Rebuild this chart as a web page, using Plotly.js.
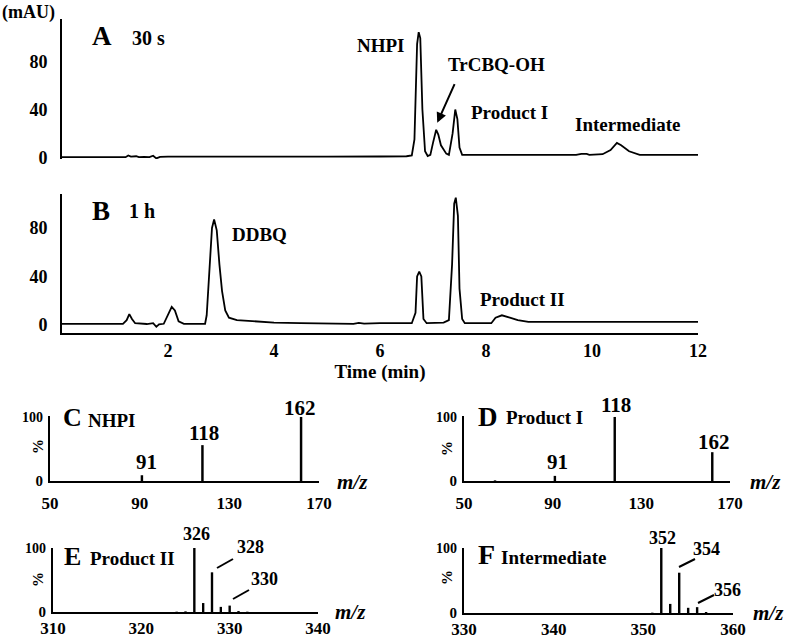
<!DOCTYPE html>
<html>
<head>
<meta charset="utf-8">
<script src="https://cdn.plot.ly/plotly-3.0.1.min.js"></script>
<style>
  body { margin: 0; background: #fff; }
  #plot { width: 787px; height: 641px; }
</style>
</head>
<body>
<div id="plot"></div>
<script>
// chromatogram A (30 s)
const timeA = [0, 1.2, 1.25, 1.3, 1.4, 1.45, 1.55, 1.65, 1.72, 1.78, 1.85, 2.0, 5.0, 5.6, 5.9, 6.0, 6.5,
  6.6, 6.65, 6.7, 6.73, 6.76, 6.8, 6.85, 6.9, 6.95, 7.0, 7.06, 7.1, 7.15, 7.25, 7.3, 7.37, 7.42, 7.46,
  7.5, 7.55, 8.0, 9.0, 9.7, 9.8, 9.9, 9.95, 10.2, 10.35, 10.47, 10.55, 10.7, 10.9, 12];
const signalA = [0, 0, 1.5, 0.5, 0.8, 0, 0.3, 0, 1.2, -1, 0.3, 0.5, 0.5, 0.3, 0, 0.6, 0.8,
  1.5, 15, 95, 105, 100, 40, 5, 1, 2, 12, 23, 19, 10, 3, 2, 20, 40, 32,
  8, 2, 2, 2, 2, 2.8, 2.8, 2, 2.5, 6, 12, 10, 5, 2, 2];

// chromatogram B (1 h)
const timeB = [0, 1.15, 1.22, 1.27, 1.32, 1.38, 1.6, 1.72, 1.78, 1.83, 1.92, 2.0, 2.07, 2.13, 2.2, 2.3,
  2.7, 2.73, 2.78, 2.83, 2.87, 2.92, 2.97, 3.02, 3.08, 3.15, 3.3, 3.6, 4.0, 4.5, 5.5, 5.6, 5.7, 6.0,
  6.6, 6.67, 6.7, 6.74, 6.78, 6.82, 6.88, 7.2, 7.3, 7.36, 7.4, 7.43, 7.47, 7.5, 7.55, 7.6,
  8.1, 8.18, 8.3, 8.45, 8.6, 8.8, 9.0, 10.0, 12];
const signalB = [1, 1, 4, 9, 5, 1.5, 0.8, 1.5, -1.5, 0.5, 1, 8, 15, 12, 3, 1,
  1, 8, 45, 80, 87, 78, 50, 28, 12, 6, 4, 3, 2, 1.5, 1, 1.8, 1.2, 1.5,
  1.5, 10, 40, 44, 40, 5, 1.5, 2, 4, 50, 100, 105, 90, 30, 5, 1.5,
  1.5, 6, 8, 6, 4, 2.5, 2.5, 2.5, 2.5];

// mass spectra (relative abundance, %)
const mzC = [91, 118, 162];
const relC = [9, 56, 100];
const mzD = [64, 91, 118, 162];
const relD = [1, 8, 100, 45];
const mzE = [324, 325, 326, 327, 328, 329, 330, 331, 332];
const relE = [0.5, 1, 100, 14, 62, 8, 10, 1.5, 0.5];
const mzF = [351, 352, 353, 354, 355, 356, 357];
const relF = [0.5, 100, 14, 62, 8, 9, 1.5];

// tick values
const mauTicks = [0, 40, 80];
const timeTicks = [2, 4, 6, 8, 10, 12];
const mzTicksCD = [50, 90, 130, 170];
const mzTicksE = [310, 320, 330, 340];
const mzTicksF = [330, 340, 350, 360];
const pctTicks = [0, 100];

const W = 787, H = 641;
const fx = p => p / W;
const fy = p => 1 - p / H;
const hdom = (a, b) => [fx(a), fx(b)];
const vdom = (top, bottom) => [fy(bottom), fy(top)];

const FONT = "Liberation Serif, Times New Roman, serif";
const bold = (size) => ({ family: FONT, size: size, color: "#000", weight: "bold" });

function yAxis(domain, range, tickvals, ticktext, size, standoff) {
  return {
    domain: domain, range: range, showline: true, linewidth: 2, linecolor: "#000",
    showgrid: false, zeroline: false, ticks: "", tickvals: tickvals, ticktext: ticktext,
    tickfont: bold(size), ticklabelstandoff: standoff, fixedrange: true
  };
}
function xAxis(domain, range, anchor, tickvals, size, standoff) {
  return {
    domain: domain, range: range, anchor: anchor, showline: true, linewidth: 2, linecolor: "#000",
    showgrid: false, zeroline: false, ticks: "", tickvals: tickvals,
    tickfont: bold(size), ticklabelstandoff: standoff, fixedrange: true
  };
}

const pctText = ['0', '<span style="font-size:14px">100</span>'];

const traces = [
  { x: timeA, y: signalA, xaxis: "x", yaxis: "y", type: "scatter", mode: "lines",
    line: { color: "#000", width: 1.8 }, hoverinfo: "skip" },
  { x: timeB, y: signalB, xaxis: "x2", yaxis: "y2", type: "scatter", mode: "lines",
    line: { color: "#000", width: 1.8 }, hoverinfo: "skip" },
  { x: mzC, y: relC, xaxis: "x3", yaxis: "y3", type: "bar", width: 1.1,
    marker: { color: "#000", line: { width: 0 } } },
  { x: mzD, y: relD, xaxis: "x4", yaxis: "y4", type: "bar", width: 1.1,
    marker: { color: "#000", line: { width: 0 } } },
  { x: mzE, y: relE, xaxis: "x5", yaxis: "y5", type: "bar", width: 0.27,
    marker: { color: "#000", line: { width: 0 } } },
  { x: mzF, y: relF, xaxis: "x6", yaxis: "y6", type: "bar", width: 0.27,
    marker: { color: "#000", line: { width: 0 } } }
];

function label(text, x, y, size, extra) {
  return Object.assign({ text: text, x: fx(x), y: fy(y), xref: "paper", yref: "paper",
    showarrow: false, xanchor: "center", yanchor: "middle", font: bold(size) }, extra || {});
}
function leader(x0, y0, x1, y1) {
  return { type: "line", xref: "paper", yref: "paper", x0: fx(x0), y0: fy(y0), x1: fx(x1), y1: fy(y1),
    line: { color: "#000", width: 2 } };
}
const mz = (x, y) => label("m/z", x, y, 21, { font: Object.assign(bold(21), { style: "italic" }) });
const pct = (x, y) => label("%", x, y, 15, { textangle: -90 });

const annotations = [
  label("(mAU)", 29, 13, 18),
  label("A", 102, 36, 27), label("30 s", 148, 38, 20),
  label("NHPI", 381, 45, 19), label("TrCBQ-OH", 496, 65, 19),
  label("Product I", 509, 112, 19), label("Intermediate", 628, 124, 19),
  { x: 7.08, y: 29, xref: "x", yref: "y", ax: 18, ay: -40, text: "", showarrow: true,
    arrowhead: 2, arrowsize: 1, arrowwidth: 2, arrowcolor: "#000" },
  label("B", 101, 211, 27), label("1 h", 142, 211, 20),
  label("DDBQ", 259, 234, 19), label("Product II", 522, 299, 19),

  label("C", 72, 418, 26), label("NHPI", 112, 420, 19),
  label("162", 300, 408, 21), label("118", 204, 433, 21), label("91", 146, 462, 21),
  mz(352, 482), pct(38, 447),
  label("D", 488, 417, 27), label("Product I", 544, 418, 19),
  label("118", 616, 405, 21), label("162", 714, 442, 21), label("91", 557, 462, 21),
  mz(765, 482), pct(447, 448),
  label("E", 72, 556, 26), label("Product II", 132, 558, 19),
  label("326", 196, 534, 18), label("328", 250, 547, 18), label("330", 264, 579, 18),
  mz(350, 612), pct(38, 580),
  label("F", 486, 554, 28), label("Intermediate", 554, 557, 19),
  label("352", 662, 538, 18), label("354", 706, 549, 18), label("356", 727, 590, 18),
  mz(768, 613), pct(447, 577)
];

const shapes = [
  leader(217, 568, 233, 559), leader(233, 599, 249, 590),
  leader(679, 567, 695, 559), leader(698, 603, 714, 595)
];

const xA = xAxis(hdom(62, 698), [0, 12], "y", [], 18, 0);
xA.visible = false;
const xB = xAxis(hdom(62, 698), [0, 12], "y2", timeTicks, 18, 0);
xB.title = { text: "Time (min)", font: bold(19), standoff: 4 };

const layout = {
  width: W, height: H,
  margin: { l: 0, r: 0, t: 0, b: 0 },
  paper_bgcolor: "#fff", plot_bgcolor: "rgba(0,0,0,0)",
  showlegend: false,
  xaxis: xA,
  yaxis: yAxis(vdom(19, 159), [-1.5, 116], mauTicks, null, 18, 9),
  xaxis2: xB,
  yaxis2: yAxis(vdom(194, 333), [-6.6, 108], mauTicks, null, 18, 9),
  xaxis3: xAxis(hdom(50, 319), [50, 170], "y3", mzTicksCD, 17, 6),
  yaxis3: Object.assign(yAxis(vdom(416, 481), [0, 101.5], pctTicks, pctText, 15, 2), { anchor: "x3" }),
  xaxis4: xAxis(hdom(464, 730), [50, 170], "y4", mzTicksCD, 17, 6),
  yaxis4: Object.assign(yAxis(vdom(416, 481), [0, 101.5], pctTicks, pctText, 15, 2), { anchor: "x4" }),
  xaxis5: xAxis(hdom(53, 318), [310, 340], "y5", mzTicksE, 17, 0),
  yaxis5: Object.assign(yAxis(vdom(548, 612), [0, 100], pctTicks, pctText, 15, 2), { anchor: "x5" }),
  xaxis6: xAxis(hdom(464, 733), [330, 360], "y6", mzTicksF, 17, 0),
  yaxis6: Object.assign(yAxis(vdom(548, 613), [0, 100], pctTicks, pctText, 15, 2), { anchor: "x6" }),
  annotations: annotations,
  shapes: shapes
};
layout.yaxis.anchor = "x";
layout.yaxis2.anchor = "x2";

Plotly.newPlot("plot", traces, layout, { staticPlot: true, displayModeBar: false });
</script>
</body>
</html>
